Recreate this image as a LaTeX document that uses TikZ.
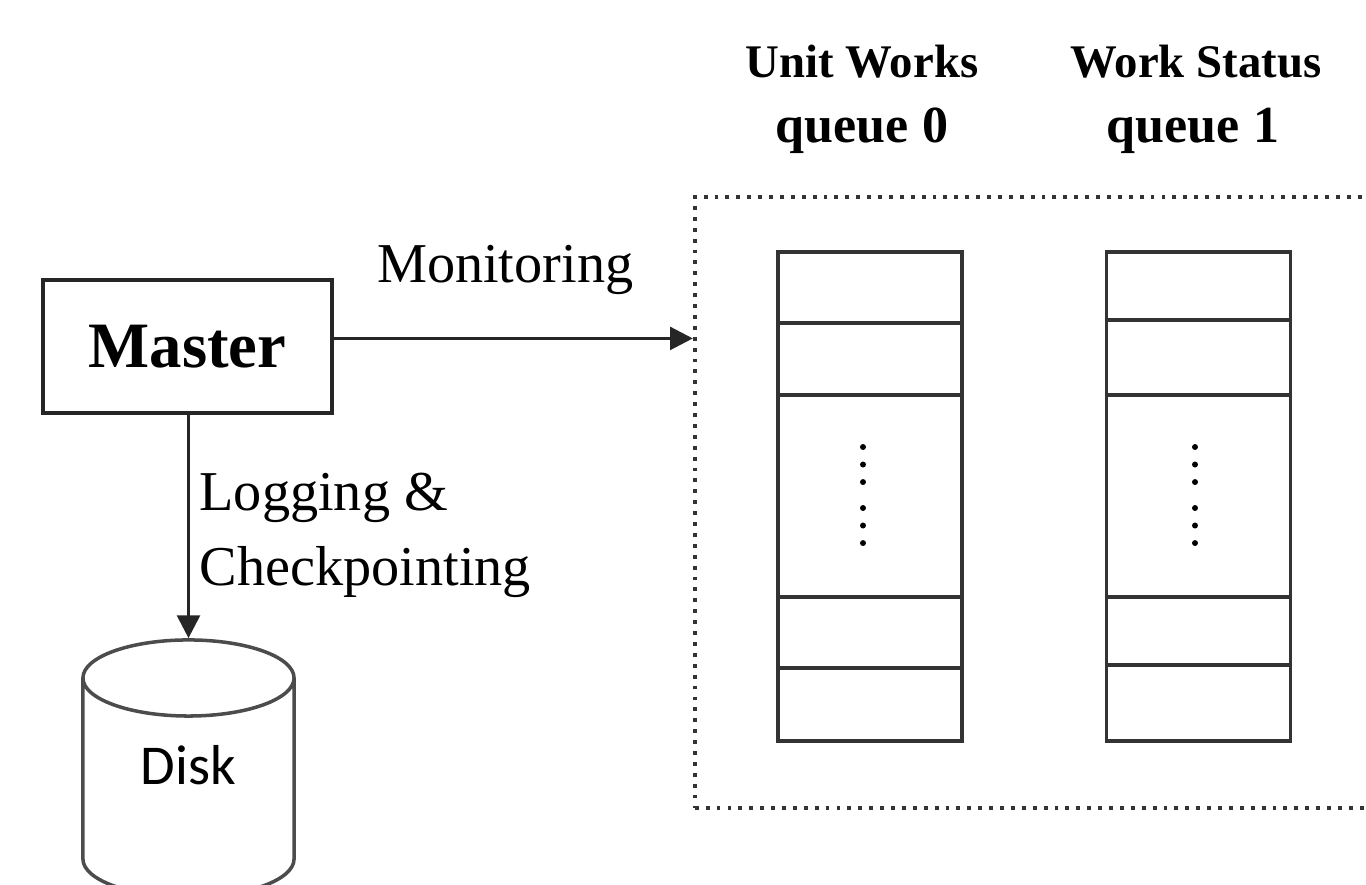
\documentclass[tikz,border=0pt]{standalone}
\usepackage{fontspec}
\setmainfont{Liberation Serif}
\newfontfamily\diskfont{Carlito}
\usepackage{tikz}
\usetikzlibrary{arrows.meta,shapes.geometric,positioning}
\tikzset{
master/.style={rectangle,draw=black!85,line width=1.1pt,minimum width=2.89cm,minimum height=1.33cm,inner sep=0pt,font=\bfseries\fontsize{18.4}{22}\selectfont},
disk/.style={cylinder,shape border rotate=90,aspect=0.8,draw=black!70,line width=1pt,minimum width=2.11cm,minimum height=2.57cm,inner sep=0pt,text depth=13.5pt,font=\diskfont\fontsize{16}{19}\selectfont},
qframe/.style={rectangle,draw=black!80,line width=1.1pt,dotted,minimum width=7.25cm,minimum height=6.11cm},
queue/.style={rectangle,draw=black!80,line width=1pt,minimum width=1.84cm,minimum height=4.89cm},
slot/.style={draw=black!80,line width=1pt},
head/.style={font=\bfseries\fontsize{13.3}{16}\selectfont,inner sep=0pt},
headq/.style={font=\bfseries\fontsize{14.8}{18}\selectfont,inner sep=0pt},
note/.style={font=\fontsize{16}{21.3}\selectfont},
arrow/.style={draw=black!85,line width=0.9pt,-{Triangle[length=6.5pt,width=6.5pt]}},
}
\tikzstyle{vdots} = [line width=1.7pt, line cap=round, dash pattern=on 0pt off 4.98pt]

\begin{document}
\begin{tikzpicture}[x=0.01cm,y=-0.01cm]
\useasboundingbox (0,0) rectangle (1366,884);
\node[master] (master) at (187.5,346.5) {Master};
\node[disk,anchor=shape center] (disk) at (188.5,768.5) {Disk};
\node[qframe] (qbox) at (1057.5,502.5) {};
\node[queue] (q0) at (870,496.5) {};
\node[queue] (q1) at (1198.5,496.5) {};
% queue titles
\node[head,anchor=base] (q0title) at (862,77) {Unit Works};
\node[headq,anchor=base] (q0name) at (862,142) {queue 0};
\node[head,anchor=base] (q1title) at (1196,77) {Work Status};
\node[headq,anchor=base] (q1name) at (1193,142) {queue 1};
% slots of queue 0
\draw[slot] (q0.west |- 0,323) -- (q0.east |- 0,323);
\draw[slot] (q0.west |- 0,395) -- (q0.east |- 0,395);
\draw[slot] (q0.west |- 0,597) -- (q0.east |- 0,597);
\draw[slot] (q0.west |- 0,668) -- (q0.east |- 0,668);
% slots of queue 1
\draw[slot] (q1.west |- 0,320) -- (q1.east |- 0,320);
\draw[slot] (q1.west |- 0,395) -- (q1.east |- 0,395);
\draw[slot] (q1.west |- 0,597) -- (q1.east |- 0,597);
\draw[slot] (q1.west |- 0,665) -- (q1.east |- 0,665);
% dots
\draw[vdots] (863,447) -- (863,483.5);
\draw[vdots] (863,508) -- (863,544.5);
\draw[vdots] (1195,447) -- (1195,483.5);
\draw[vdots] (1195,508) -- (1195,544.5);
% arrows
\draw[arrow] ([yshift=2.3pt]master.east) --
  node[pos=0.477,above=10pt,inner sep=2pt,note] (mon) {Monitoring}
  ([yshift=2.3pt]master.east -| qbox.west);
\draw[arrow] (master.south -| disk.north) --
  node[pos=0.54,right,align=left,inner xsep=2.7pt,note] (log) {Logging \&\\Checkpointing}
  (disk.north);
\end{tikzpicture}
\end{document}
